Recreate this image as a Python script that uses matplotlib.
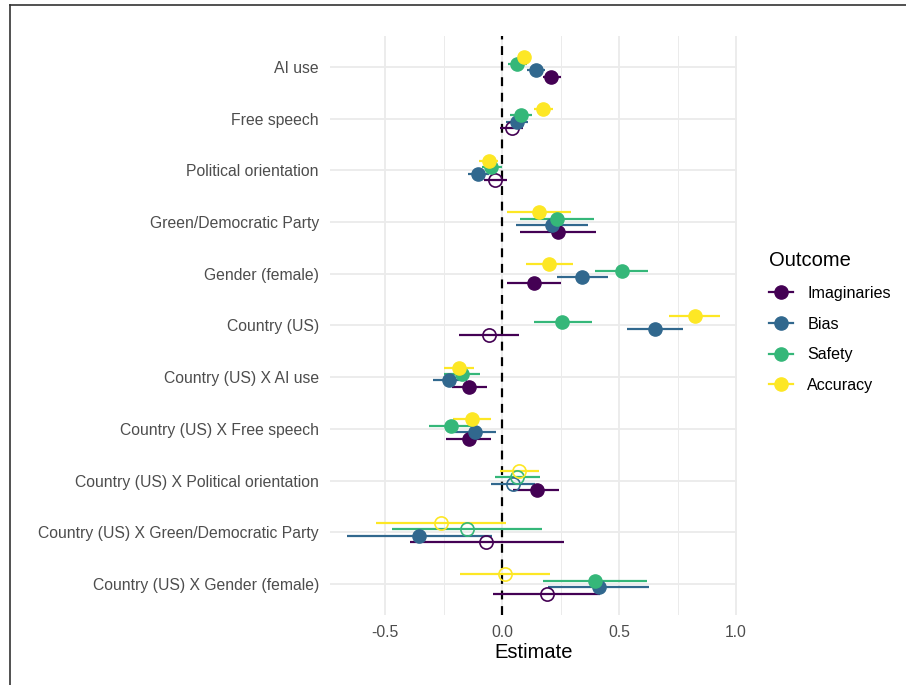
import matplotlib.pyplot as plt
from matplotlib.lines import Line2D

plt.rcParams['font.family'] = ['Liberation Sans', 'DejaVu Sans']

terms = ["AI use", "Free speech", "Political orientation", "Green/Democratic Party",
         "Gender (female)", "Country (US)", "Country (US) X AI use",
         "Country (US) X Free speech", "Country (US) X Political orientation",
         "Country (US) X Green/Democratic Party", "Country (US) X Gender (female)"]

outcomes = ["Imaginaries", "Bias", "Safety", "Accuracy"]
colors = ["#440154", "#31688E", "#35B779", "#FDE725"]

imag_est = [0.211, 0.041, -0.028, 0.238, 0.135, -0.056, -0.140, -0.142, 0.148, -0.067, 0.191]
imag_lo = [0.174, -0.007, -0.076, 0.077, 0.020, -0.182, -0.215, -0.239, 0.048, -0.393, -0.037]
imag_hi = [0.251, 0.088, 0.020, 0.400, 0.252, 0.071, -0.064, -0.047, 0.245, 0.264, 0.419]
imag_sig = [True, False, False, True, True, False, True, True, True, False, False]

bias_est = [0.145, 0.066, -0.101, 0.212, 0.343, 0.654, -0.225, -0.115, 0.046, -0.353, 0.416]
bias_lo = [0.108, 0.017, -0.147, 0.058, 0.234, 0.536, -0.295, -0.206, -0.046, -0.664, 0.198]
bias_hi = [0.184, 0.113, -0.057, 0.366, 0.453, 0.774, -0.151, -0.026, 0.140, -0.043, 0.630]
bias_sig = [True, True, True, True, True, True, True, True, False, True, True]

safe_est = [0.066, 0.081, -0.047, 0.234, 0.511, 0.258, -0.171, -0.217, 0.066, -0.151, 0.396]
safe_lo = [0.027, 0.034, -0.087, 0.076, 0.399, 0.135, -0.246, -0.311, -0.031, -0.470, 0.174]
safe_hi = [0.105, 0.130, 0.000, 0.393, 0.625, 0.383, -0.095, -0.123, 0.161, 0.172, 0.620]
safe_sig = [True, True, True, True, True, True, True, True, False, False, True]

acc_est = [0.094, 0.177, -0.057, 0.158, 0.202, 0.823, -0.185, -0.128, 0.073, -0.261, 0.013]
acc_lo = [0.070, 0.135, -0.098, 0.020, 0.103, 0.715, -0.249, -0.208, -0.009, -0.540, -0.181]
acc_hi = [0.124, 0.219, -0.016, 0.296, 0.302, 0.932, -0.121, -0.046, 0.157, 0.017, 0.207]
acc_sig = [True, True, True, True, True, True, True, True, False, False, False]

series = [
  (imag_est, imag_lo, imag_hi, imag_sig),
  (bias_est, bias_lo, bias_hi, bias_sig),
  (safe_est, safe_lo, safe_hi, safe_sig),
  (acc_est, acc_lo, acc_hi, acc_sig),
]
offsets = [0.1875, 0.0625, -0.0625, -0.1875]

fig = plt.figure(figsize=(9.06, 6.85), dpi=100)
ax = fig.add_axes([330/906, 1 - 615/685, 407/906, 579/685])

grid_col = "#EBEBEB"
for x in [-0.5, 0, 0.5, 1.0]:
  ax.axvline(x, color=grid_col, lw=1.3, zorder=0)
for x in [-0.25, 0.25, 0.75]:
  ax.axvline(x, color=grid_col, lw=0.7, zorder=0)
for i in range(len(terms)):
  ax.axhline(i, color=grid_col, lw=1.3, zorder=0)

ax.axvline(0, color="black", lw=1.6, ls=(0, (4, 3)), zorder=1)

for (est, lo, hi, sig), col, off in zip(series, colors, offsets):
  for i in range(len(terms)):
    y = i + off
    ax.plot([lo[i], hi[i]], [y, y], color=col, lw=1.6, solid_capstyle="butt", zorder=2)
    if sig[i]:
      ax.plot(est[i], y, "o", color=col, ms=9.5, mec=col, zorder=3)
    else:
      ax.plot(est[i], y, "o", mfc="none", mec=col, mew=1.2, ms=9.5, zorder=3)

ax.set_xlim(-0.735, 1.004)
ax.set_ylim(len(terms) - 1 + 0.6, -0.6)
ax.set_yticks(range(len(terms)))
ax.set_yticklabels(terms)
ax.set_xticks([-0.5, 0, 0.5, 1.0])
ax.set_xticklabels(["-0.5", "0.0", "0.5", "1.0"])
ax.tick_params(length=0, labelsize=11.3, labelcolor="#4D4D4D")
ax.tick_params(axis="y", pad=8)
ax.tick_params(axis="x", pad=7)
for s in ax.spines.values():
  s.set_visible(False)
ax.set_xlabel("Estimate", fontsize=14.5, labelpad=2)

handles = [Line2D([0], [0], color=c, lw=1.6, marker="o", ms=9.5) for c in colors]
leg = fig.legend(handles, outcomes, loc="upper left", bbox_to_anchor=(754/906, 1 - 237/685),
                 frameon=False, title="Outcome", fontsize=11.6, title_fontsize=14.5,
                 handlelength=1.55, labelspacing=0.97, handletextpad=0.85, alignment="left")

# border lines on top and left edge
fig.add_artist(Line2D([10/906, 10/906], [0, 1 - 5/685], color="#333333", lw=1.2))
fig.add_artist(Line2D([10/906, 1], [1 - 5/685, 1 - 5/685], color="#333333", lw=1.2))

fig.savefig("out.png", dpi=100)
